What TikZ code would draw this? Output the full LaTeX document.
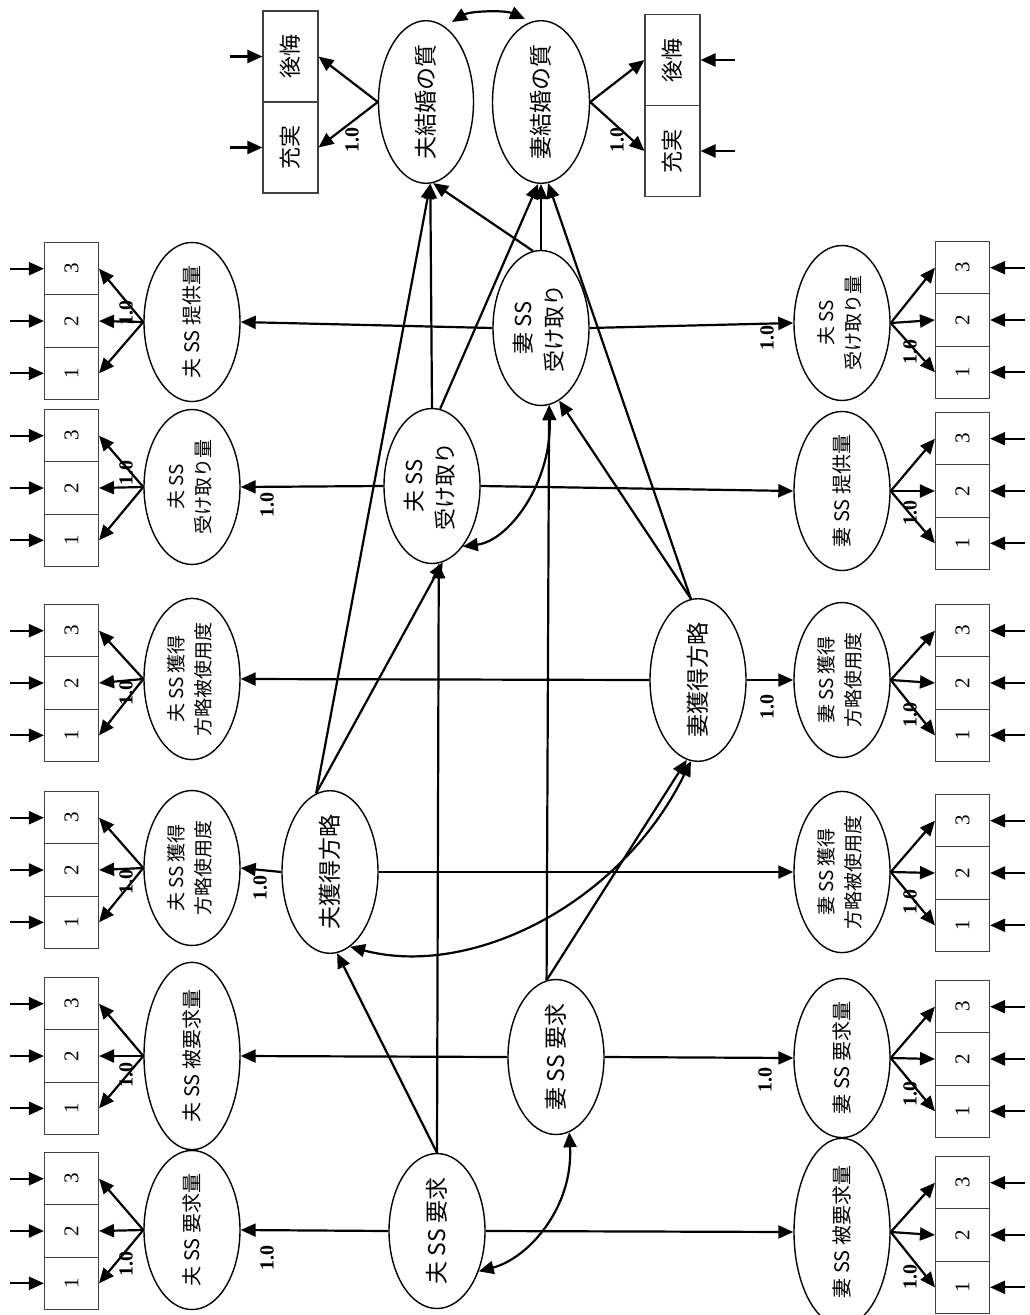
\documentclass[tikz,border=0pt]{standalone}
\usepackage{fontspec}
\usepackage{graphicx}
\usetikzlibrary{arrows.meta,calc,shapes.geometric}
\newfontfamily\jp{Noto Sans CJK JP}
\newfontfamily\sr{Liberation Serif}
\newcommand\twos[2]{{\fontsize{19}{27}\selectfont\begin{tabular}{@{}c@{}}#1\\#2\end{tabular}}}
\newcommand\twob[2]{{\fontsize{22}{31}\selectfont\begin{tabular}{@{}c@{}}#1\\#2\end{tabular}}}
\tikzset{
  lat/.style={draw, ellipse, line width=1.4pt, minimum width=96pt, minimum height=155pt, inner sep=0pt, font=\jp\fontsize{20}{24}\selectfont},
  clat/.style={lat, font=\jp\fontsize{23}{27}\selectfont},
  ind/.style={draw=black!75, line width=1.1pt, rectangle, minimum width=54pt, minimum height=52.3pt, inner sep=0pt, font=\sr\fontsize{21}{21}\selectfont},
  ind2/.style={draw=black!75, line width=1.1pt, rectangle, minimum width=55pt, minimum height=91pt, inner sep=0pt, font=\jp\fontsize{22}{22}\selectfont},
  arr/.style={line width=2.2pt, -{Triangle[length=15pt,width=13pt]}},
  dbl/.style={line width=2.2pt, {Triangle[length=15pt,width=13pt]}-{Triangle[length=15pt,width=13pt]}},
  lab/.style={rotate=90, inner sep=0pt, font=\sr\bfseries\fontsize{20}{20}\selectfont},
}
% left group: name, ellipse y, box centre y, text, label dy
\newcommand\grpL[5]{%
  \node[lat] (#1) at (192,#2) {\rotatebox{90}{#4}};
  \foreach \k in {1,2,3}{
    \node[ind] (#1b\k) at (71.5,{#3+(2-\k)*52.3}) {\rotatebox{90}{\k}};
    \coordinate (#1s\k) at (10,{#3+(2-\k)*52.3});
    \draw[arr] (#1s\k) -- (#1b\k.west);
    \draw[arr] (#1.west) -- (#1b\k.east);
  }
  \node[lab] (#1l) at (126,{#3+#5}) {1.0};
}
\newcommand\grpR[5]{%
  \node[lat] (#1) at (842,#2) {\rotatebox{90}{#4}};
  \foreach \k in {1,2,3}{
    \node[ind] (#1b\k) at (962.5,{#3+(2-\k)*52.3}) {\rotatebox{90}{\k}};
    \coordinate (#1s\k) at (1025,{#3+(2-\k)*52.3});
    \draw[arr] (#1s\k) -- (#1b\k.east);
    \draw[arr] (#1.east) -- (#1b\k.west);
  }
  \node[lab] (#1l) at (910,{#3+#5}) {1.0};
}
\begin{document}
\begin{tikzpicture}[x=1pt,y=-1pt]
\useasboundingbox (0,0) rectangle (1029,1315);
\fill[white] (0,0) rectangle (1029,1315);

% indicator groups
\grpL{La}{322}{321}{夫 SS 提供量}{-8}
\grpL{Lb}{487}{488}{\twos{夫 SS}{受け取り量}}{-15}
\grpL{Lc}{679}{683}{\twos{夫 SS 獲得}{方略被使用度}}{10}
\grpL{Ld}{868}{870}{\twos{夫 SS 獲得}{方略使用度}}{12}
\grpL{Le}{1056}{1056}{夫 SS 被要求量}{19}
\grpL{Lf}{1230}{1231}{夫 SS 要求量}{33}
\grpR{Ra}{323}{320}{\twos{夫 SS}{受け取り量}}{32}
\grpR{Rb}{491}{491}{妻 SS 提供量}{22}
\grpR{Rc}{680}{683}{\twos{妻 SS 獲得}{方略使用度}}{32}
\grpR{Rd}{872}{873}{\twos{妻 SS 獲得}{方略被使用度}}{29}
\grpR{Re}{1058}{1059}{妻 SS 要求量}{35}
\grpR{Rf}{1232}{1235}{妻 SS 被要求量}{42}

% central latents
\node[clat, minimum width=95pt, minimum height=153pt] (fmq) at (426,102) {\rotatebox{90}{夫結婚の質}};
\node[clat, minimum width=97pt, minimum height=153pt] (mmq) at (541,102) {\rotatebox{90}{妻結婚の質}};
\node[clat] (msu) at (541,328) {\rotatebox{90}{\twob{妻 SS}{受け取り}}};
\node[clat] (fsu) at (432,486) {\rotatebox{90}{\twob{夫 SS}{受け取り}}};
\node[clat] (mkr) at (698,680) {\rotatebox{90}{妻獲得方略}};
\node[clat] (fkr) at (330,872) {\rotatebox{90}{夫獲得方略}};
\node[clat] (msr) at (556,1057) {\rotatebox{90}{妻 SS 要求}};
\node[clat] (fsr) at (437,1231) {\rotatebox{90}{夫 SS 要求}};

% marriage quality indicators
\node[ind2] (fh) at (290.5,56.5) {\rotatebox{90}{後悔}};
\node[ind2] (fj) at (290.5,147.5) {\rotatebox{90}{充実}};
\node[ind2] (mh) at (672.5,60) {\rotatebox{90}{後悔}};
\node[ind2] (mj) at (672.5,151) {\rotatebox{90}{充実}};
\coordinate (fhs) at (230,56.5);
\coordinate (fjs) at (230,147.5);
\coordinate (mhs) at (735,60);
\coordinate (mjs) at (735,151);
\draw[arr] (fhs) -- (fh.west);
\draw[arr] (fjs) -- (fj.west);
\draw[arr] (mhs) -- (mh.east);
\draw[arr] (mjs) -- (mj.east);
\draw[arr] (fmq.west) -- (fh.east);
\draw[arr] (fmq.west) -- (fj.east);
\draw[arr] (mmq.east) -- (mh.west);
\draw[arr] (mmq.east) -- (mj.west);
\node[lab] (fql) at (352,140) {1.0};
\node[lab] (mql) at (617,140) {1.0};
\coordinate (qa) at (452,22);
\coordinate (qb) at (525,19);
\draw[dbl] (qa) .. controls (470,11) and (505,10) .. (qb);

% structural paths
\draw[arr] (fsr.west) -- (Lf.east);
\node[lab] (l1) at (267,1258) {1.0};
\draw[arr] (fsr.east) -- (Rf.west);
\draw[dbl] (fsr.-44) .. controls +(50,-13) and +(4,75) .. (msr.-80);
\draw[arr] (fsr.north) -- (fkr.-85);
\draw[arr] (fsr.north) -- (fsu.-85);

\draw[arr] (msr.west) -- (Le.east);
\draw[arr] (msr.east) -- (Re.west);
\node[lab] (l2) at (765,1080) {1.0};
\draw[arr] (msr.97) -- (msu.-84);
\draw[arr] (msr.97) -- (mkr.-98);

\draw[dbl] (fkr.-75) .. controls +(121,32) and +(-70,143) .. (mkr.-95);
\draw[arr] (fkr.west) -- (Ld.east);
\node[lab] (l3) at (260,888) {1.0};
\draw[arr] (fkr.east) -- (Rd.west);
\draw[arr] (fkr.100) -- (fmq.-87);
\draw[arr] (fkr.100) -- (fsu.-82);

\draw[arr] (mkr.west) -- (Lc.east);
\draw[arr] (mkr.east) -- (Rc.west);
\node[lab] (l4) at (767,707) {1.0};
\draw[arr] (mkr.95) -- (mmq.-85);
\draw[arr] (mkr.95) -- (msu.-76);

\draw[arr] (fsu.west) -- (Lb.east);
\node[lab] (l5) at (267,505) {1.0};
\draw[arr] (fsu.east) -- (Rb.west);
\draw[arr] (fsu.north) -- (fmq.-87);
\draw[arr] (fsu.84) -- (mmq.-92);
\draw[dbl] (fsu.-63) .. controls +(47,-6) and +(3,76) .. (msu.-84);

\draw[arr] (msu.west) -- (La.east);
\draw[arr] (msu.east) -- (Ra.west);
\node[lab] (l6) at (767,338) {1.0};
\draw[arr] (msu.north) -- (mmq.south);
\draw[arr] (msu.96) -- (fmq.-85);
\end{tikzpicture}
\end{document}
